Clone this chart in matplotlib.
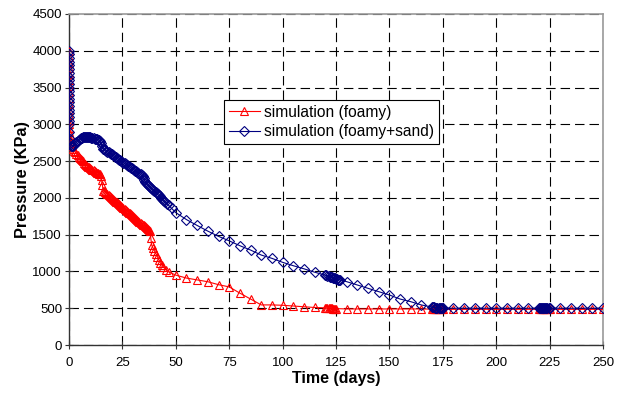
import matplotlib
matplotlib.use("Agg")
import matplotlib.pyplot as plt
import numpy as np

plt.rcParams['font.family'] = ['Liberation Sans', 'DejaVu Sans']

# ---- data: simulation (foamy) ----
foamy_t = [0, 0, 0, 0, 0, 0, 0, 0, 0, 0, 0.05, 0.05, 0.1, 0.1, 0.15, 0.2, 0.3, 0.5, 0.7,
           1.0, 1.5, 2.0, 2.5, 3.0, 3.5,
           4.0, 4.5, 5.0, 5.5, 6.0, 6.5, 7.0, 7.5, 8.0, 8.5, 9.0, 9.5, 10.0, 10.5, 11.0,
           11.5, 12.0, 12.5, 13.0, 13.5, 14.0, 14.5, 15.0, 15.3, 15.6,
           16.0, 16.5, 17.0, 17.5, 18.0, 18.5, 19.0, 19.5, 20.0, 20.5, 21.0, 21.5, 22.0,
           22.5, 23.0, 23.5, 24.0, 24.5, 25.0, 25.5, 26.0, 26.5, 27.0, 27.5, 28.0, 28.5,
           29.0, 29.5, 30.0, 30.5, 31.0, 31.5, 32.0, 32.5, 33.0, 33.5, 34.0, 34.5, 35.0,
           35.5, 36.0, 36.5, 37.0, 37.5, 38.0,
           38.3, 38.7, 39.3, 40.0, 40.7, 41.4, 42.0, 42.7, 43.4, 44.2, 45.5, 47.0, 50.0,
           55, 60, 65, 70, 75, 80, 85, 90, 95, 100, 105, 110, 115, 120,
           120.5, 121, 121.5, 122, 122.5, 123, 123.5, 124, 124.5, 125,
           130, 135, 140, 145, 150, 155, 160, 165,
           170, 170.5, 171, 171.5, 172, 172.5, 173, 173.5, 174, 174.5, 175,
           180, 185, 190, 195, 200, 205, 210, 215,
           220, 220.5, 221, 221.5, 222, 222.5, 223, 223.5, 224, 224.5, 225,
           230, 235, 240, 245, 250]
foamy_p = [4000, 3920, 3840, 3760, 3680, 3600, 3520, 3440, 3360, 3280, 3200, 3130, 3060,
           3000, 2950, 2900, 2850, 2800, 2770, 2740, 2700, 2670, 2640, 2620, 2600,
           2580, 2560, 2540, 2525, 2510, 2495,
           2480, 2465, 2450, 2440, 2425, 2415, 2405, 2395, 2385, 2375, 2365, 2355, 2345,
           2338, 2330, 2320, 2300, 2240, 2180,
           2100, 2088, 2075, 2063, 2050, 2038, 2025, 2013, 2000, 1988, 1975, 1963, 1950,
           1938, 1925, 1913, 1900, 1888, 1875, 1863, 1850, 1838, 1825, 1813, 1800, 1788,
           1775, 1763, 1750, 1738, 1725, 1713, 1700, 1688, 1675, 1663, 1650, 1638, 1625,
           1613, 1600, 1588, 1575, 1563, 1550,
           1450, 1360, 1320, 1280, 1240, 1200, 1160, 1120, 1090, 1060, 1020, 990, 950,
           910, 885, 860, 820, 790, 705, 625, 545, 545, 540, 530, 520, 510, 505,
           500, 500, 500, 500, 498, 497, 496, 495, 495, 495,
           490, 490, 490, 490, 490, 490, 490, 490,
           488, 488, 487, 487, 486, 486, 486, 485, 485, 485, 485,
           485, 485, 485, 485, 485, 485, 485, 485,
           485, 485, 485, 485, 485, 485, 485, 485, 485, 485, 485,
           485, 485, 485, 485, 485]

# ---- data: simulation (foamy+sand) ----
sand_t = [0, 0, 0, 0, 0, 0, 0, 0, 0, 0, 0, 0, 0, 0, 0, 0, 0, 0, 0.05, 0.05, 0.1, 0.15,
          0.3, 0.6, 1.0, 1.5, 2.0, 2.5, 3.0, 3.5, 4.0, 4.5, 5.0, 5.5, 6.0, 6.5, 7.0,
          7.5, 8.0, 8.5, 9.0, 9.5, 10.0, 10.5, 11.0, 11.5, 12.0, 12.5, 13.0, 13.5, 14.0,
          14.5, 15.0, 15.5,
          16.0, 16.5, 17.0, 17.5, 18.0, 18.5, 19.0, 19.5, 20.0, 20.5, 21.0, 21.5, 22.0,
          22.5, 23.0, 23.5, 24.0, 24.5, 25.0, 25.5, 26.0, 26.5, 27.0, 27.5, 28.0, 28.5,
          29.0, 29.5, 30.0, 30.5, 31.0, 31.5, 32.0, 32.5, 33.0, 33.5, 34.0, 34.5,
          35.0, 35.3, 35.6, 36.0, 36.5, 37.0, 37.5, 38.0, 38.5, 39.0, 39.5, 40.0, 40.5,
          41.0, 41.5, 42.0, 42.5, 43.0, 43.5, 44.0, 44.5, 45.0, 45.8, 46.7, 48.0, 50.0,
          55, 60, 65, 70, 75, 80, 85, 90, 95, 100, 105, 110, 115,
          120, 120.5, 121, 121.5, 122, 122.5, 123, 123.5, 124, 124.5, 125, 125.5, 126,
          126.5, 127,
          130, 135, 140, 145, 150, 155, 160, 165,
          170, 170.5, 171, 171.5, 172, 172.5, 173, 173.5, 174, 174.5, 175,
          180, 185, 190, 195, 200, 205, 210, 215,
          220, 220.5, 221, 221.5, 222, 222.5, 223, 223.5, 224, 224.5, 225,
          230, 235, 240, 245, 250]
sand_p = [4000, 3950, 3900, 3850, 3800, 3750, 3700, 3650, 3600, 3550, 3500, 3450, 3400,
          3350, 3300, 3250, 3200, 3150, 3100, 3050, 3000, 2900,
          2800, 2740, 2710, 2700, 2705, 2720, 2740, 2760, 2775, 2790, 2800, 2810, 2818,
          2825, 2830, 2832, 2833, 2832, 2830, 2828, 2825, 2820, 2815, 2810, 2805, 2800,
          2795, 2790, 2785, 2775, 2740, 2700,
          2670, 2660, 2650, 2640, 2630, 2620, 2610, 2600, 2590, 2580, 2570, 2560, 2550,
          2540, 2530, 2520, 2510, 2500, 2490, 2480, 2470, 2460, 2450, 2440, 2430, 2420,
          2410, 2400, 2390, 2380, 2370, 2360, 2350, 2340, 2330, 2320, 2305, 2295,
          2270, 2245, 2220, 2208, 2194, 2179, 2165, 2150, 2135, 2121, 2106, 2092, 2077,
          2062, 2048, 2033, 2019, 2004, 1989, 1975, 1960, 1946, 1923, 1897, 1860, 1800,
          1705, 1625, 1548, 1477, 1416, 1350, 1291, 1223, 1178, 1124, 1078, 1036, 990,
          950, 945, 940, 935, 930, 925, 920, 915, 910, 905, 900, 895, 890, 887, 885,
          861, 816, 771, 725, 680, 625, 589, 544,
          515, 513, 511, 509, 507, 505, 503, 502, 501, 500, 500,
          500, 500, 500, 500, 500, 500, 500, 500,
          500, 500, 500, 500, 500, 500, 500, 500, 500, 500, 500,
          500, 500, 500, 500, 500]

x_ticks = [0, 25, 50, 75, 100, 125, 150, 175, 200, 225, 250]
y_ticks = [0, 500, 1000, 1500, 2000, 2500, 3000, 3500, 4000, 4500]

fig = plt.figure(figsize=(6.32, 3.94), dpi=100)
ax = fig.add_axes([69/632, 49/394, 534/632, 331/394])

ax.plot(foamy_t, foamy_p, color='#FF0000', lw=0.8, marker='^', ms=6.2,
        mfc='none', mec='#FF0000', mew=0.8, label='simulation (foamy)', zorder=3)
ax.plot(sand_t, sand_p, color='#000080', lw=0.8, marker='D', ms=4.8,
        mfc='none', mec='#000080', mew=0.8, label='simulation (foamy+sand)', zorder=4)

ax.set_xlim(0, 250)
ax.set_ylim(0, 4500)
ax.set_xticks(x_ticks)
ax.set_yticks(y_ticks)
ax.tick_params(direction='inout', length=6, width=0.8, labelsize=9.5,
               color='#333333')
ax.tick_params(axis='x', pad=6)
ax.tick_params(axis='y', pad=2)
ax.grid(True, color='black', linestyle=(0, (8.5, 4.5)), linewidth=0.8)
ax.set_axisbelow(True)
for s in ['left', 'bottom']:
    ax.spines[s].set_color('#333333')
    ax.spines[s].set_linewidth(1.0)
for s in ['top', 'right']:
    ax.spines[s].set_color('#9a9a9a')
    ax.spines[s].set_linewidth(1.2)

ax.set_xlabel('Time (days)', fontsize=11.5, fontweight='bold', labelpad=1)
ax.set_ylabel('Pressure (KPa)', fontsize=11.8, fontweight='bold', labelpad=2)

leg = ax.legend(loc='upper left', bbox_to_anchor=((224-69)/534, (345-100)/331),
                fontsize=11.2, frameon=True, fancybox=False, edgecolor='black',
                framealpha=1, handlelength=2.0, handletextpad=0.3,
                borderpad=0.3, labelspacing=0.3, borderaxespad=0)
leg.get_frame().set_linewidth(0.8)

fig.savefig('out.png', dpi=100)
